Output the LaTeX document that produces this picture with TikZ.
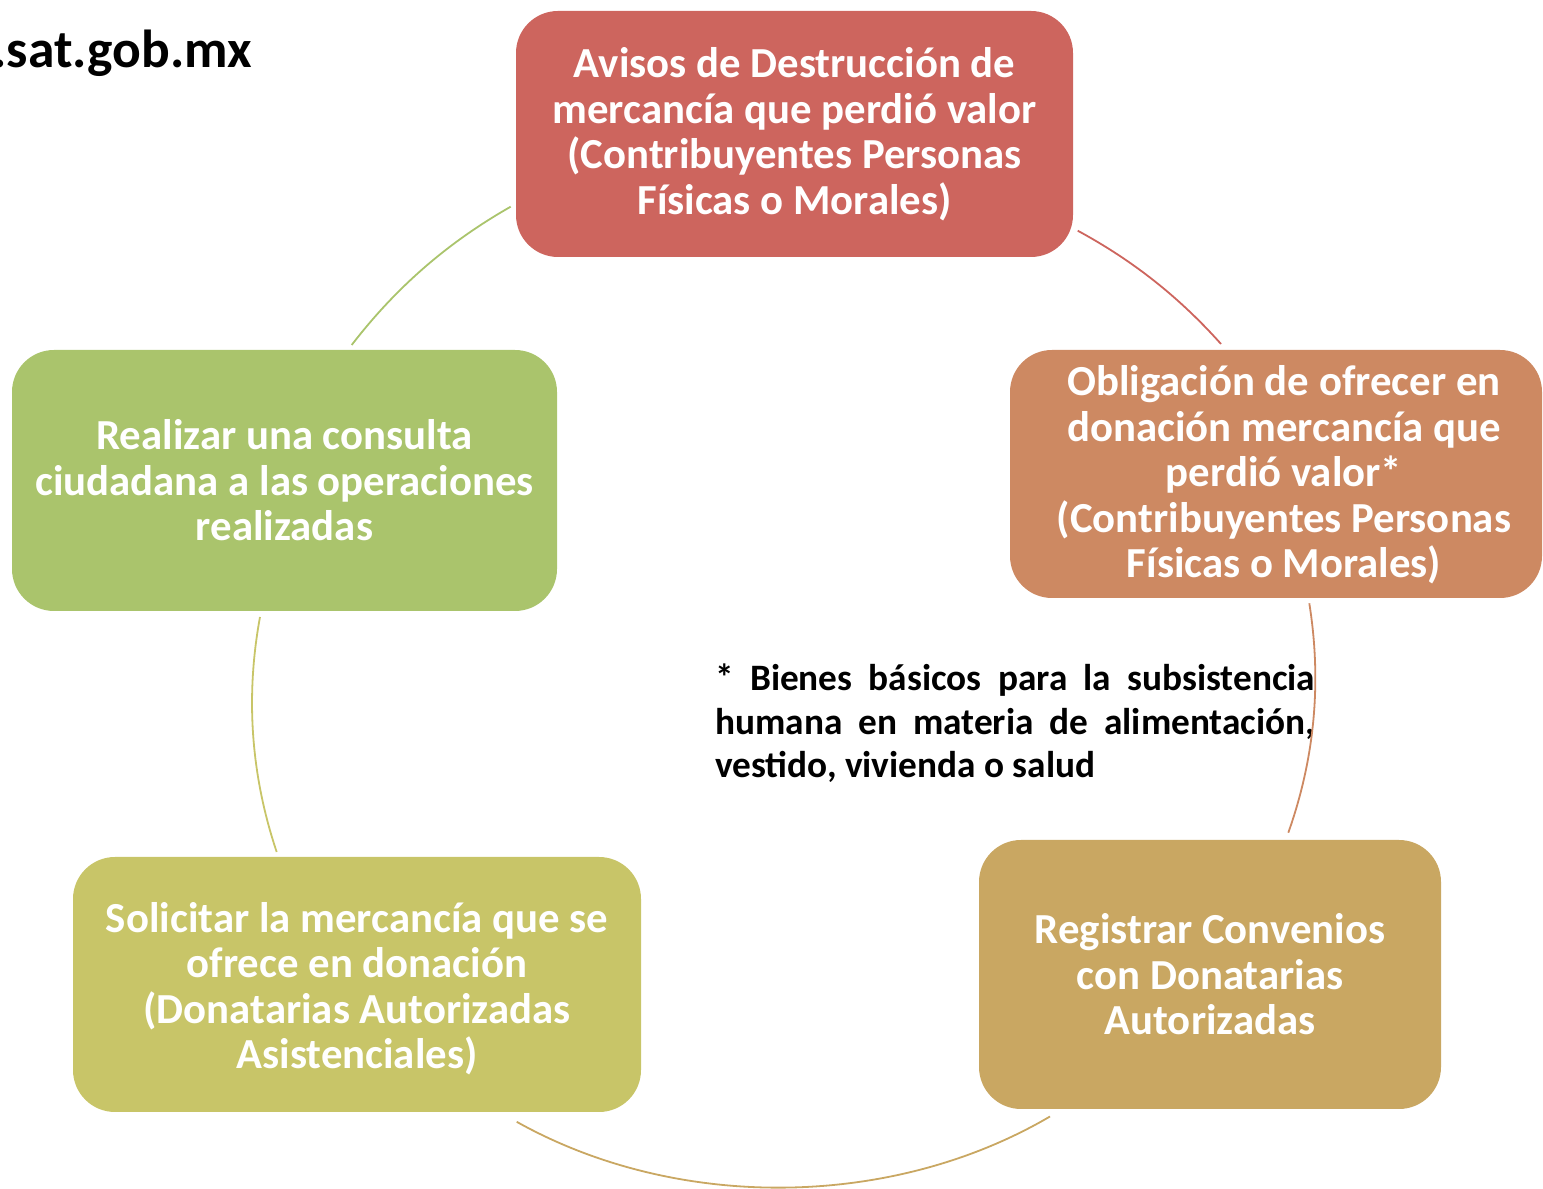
\documentclass[tikz,border=0pt]{standalone}
\usepackage{fontspec}
\setmainfont{Carlito}
\definecolor{cRed}{RGB}{205,101,94}
\definecolor{cOrange}{RGB}{205,137,98}
\definecolor{cTan}{RGB}{201,167,98}
\definecolor{cYellow}{RGB}{200,197,104}
\definecolor{cGreen}{RGB}{170,196,108}
\begin{document}
\begin{tikzpicture}[x=1pt,y=1pt,
  box/.style={rounded corners=42pt, inner sep=0pt, align=center, text=white,
    font=\bfseries\fontsize{42.8}{45.5}\selectfont},
  boxtext/.style={inner sep=0pt, align=center, text=white,
    font=\bfseries\fontsize{42.8}{45.5}\selectfont},
  ring/.style={line width=1.8pt, looseness=0.88}]
\useasboundingbox (0,0) rectangle (1543,1189);

% header
\node[anchor=base west, inner sep=0pt, font=\bfseries\fontsize{53.5}{60}\selectfont] (url) at (-7.5,1121) {.sat.gob.mx};

% boxes
\node[box, fill=cRed, minimum width=557pt, minimum height=246pt] (top) at (794.5,1055)
  {Avisos de Destrucción de\\mercancía que perdió valor\\(Contribuyentes Personas\\Físicas o Morales)};
\node[box, fill=cOrange, minimum width=532pt, minimum height=248pt] (right) at (1276,715) {};
\node[boxtext] (rightT) at (1284,714)
  {Obligación de ofrecer en\\donación mercancía que\\perdió valor*\\(Contribuyentes Personas\\Físicas o Morales)};
\node[box, fill=cTan, minimum width=462pt, minimum height=269pt] (bright) at (1210,214.5)
  {Registrar Convenios\\con Donatarias\\Autorizadas};
\node[box, fill=cYellow, minimum width=568pt, minimum height=255pt] (bleft) at (357,204.5) {};
\node[boxtext] (bleftT) at (357,200.5)
  {Solicitar la mercancía que se\\ofrece en donación\\(Donatarias Autorizadas\\Asistenciales)};
\node[box, fill=cGreen, minimum width=545pt, minimum height=261pt] (left) at (284.5,708.5)
  {Realizar una consulta\\ciudadana a las operaciones\\realizadas};

% note
\node[anchor=north west, inner sep=0pt, text width=600pt, align=justify,
  font=\bfseries\fontsize{37.3}{43.5}\selectfont] (note) at (715,525)
  {* Bienes básicos para la subsistencia humana en materia de alimentación, vestido, vivienda o salud};

% arc end points
\coordinate (a1s) at (1077.7,958.3); \coordinate (a1e) at (1221,845);
\coordinate (a2s) at (1309.3,585.7); \coordinate (a2e) at (1288.3,356.3);
\coordinate (a3s) at (1050,72.5);    \coordinate (a3e) at (516.7,67.2);
\coordinate (a4s) at (276.7,337);    \coordinate (a4e) at (260,572);
\coordinate (a5s) at (351.7,844);    \coordinate (a5e) at (510.7,982.3);

\draw[ring, cRed] (a1s) to[bend left=9.9] (a1e);
\draw[ring, cOrange] (a2s) to[bend left=14.3] (a2e);
\draw[ring, cTan] (a3s) to[bend left=29.8] (a3e);
\draw[ring, cYellow] (a4s) to[bend left=14.5] (a4e);
\draw[ring, cGreen] (a5s) to[bend left=11.4] (a5e);
\end{tikzpicture}
\end{document}
